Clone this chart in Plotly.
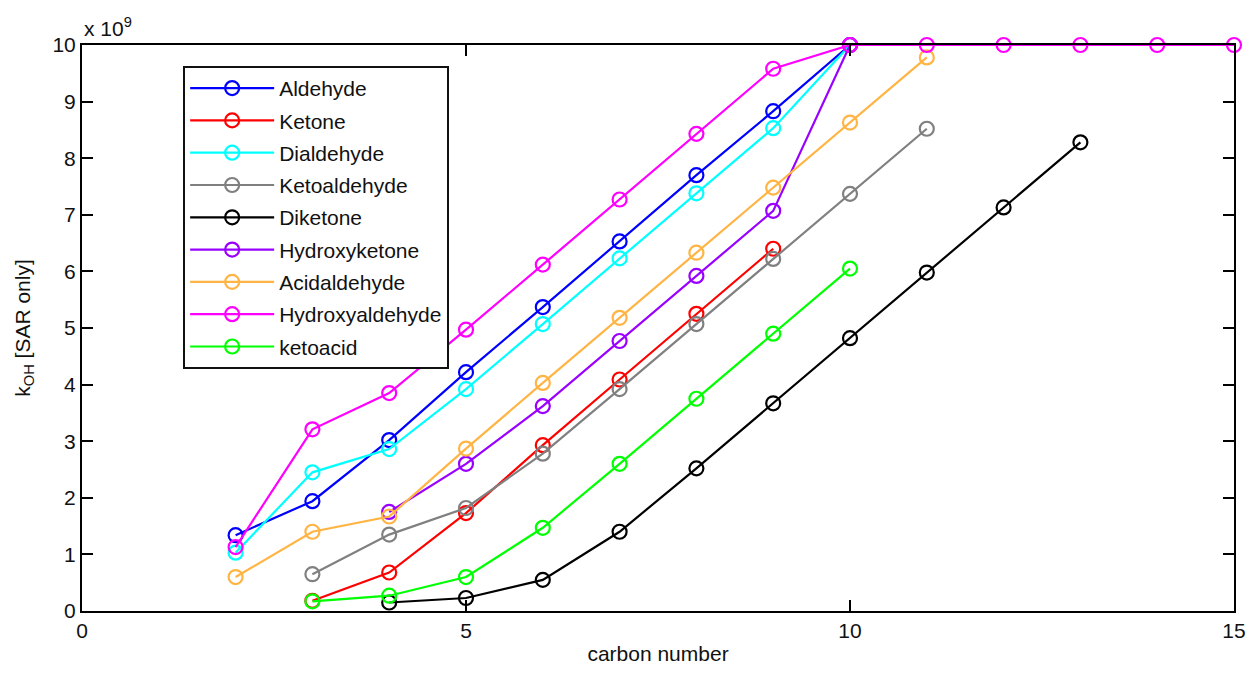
import plotly.graph_objects as go

# values in units of 1e9
names = ["Aldehyde", "Ketone", "Dialdehyde", "Ketoaldehyde", "Diketone",
         "Hydroxyketone", "Acidaldehyde", "Hydroxyaldehyde", "ketoacid"]
colors = ["#0000FF", "#FF0000", "#00FFFF", "#808080", "#000000",
          "#9900FF", "#FFB444", "#FF00FF", "#00FF00"]

aldehyde_x = [2, 3, 4, 5, 6, 7, 8, 9, 10]
aldehyde_y = [1.34, 1.94, 3.02, 4.22, 5.37, 6.53, 7.70, 8.83, 10.0]
ketone_x = [3, 4, 5, 6, 7, 8, 9]
ketone_y = [0.18, 0.68, 1.73, 2.93, 4.09, 5.25, 6.40]
dialdehyde_x = [2, 3, 4, 5, 6, 7, 8, 9, 10]
dialdehyde_y = [1.03, 2.45, 2.86, 3.92, 5.07, 6.23, 7.38, 8.53, 10.0]
ketoaldehyde_x = [3, 4, 5, 6, 7, 8, 9, 10, 11]
ketoaldehyde_y = [0.65, 1.35, 1.82, 2.78, 3.92, 5.07, 6.22, 7.37, 8.52]
diketone_x = [4, 5, 6, 7, 8, 9, 10, 11, 12, 13]
diketone_y = [0.15, 0.23, 0.55, 1.40, 2.52, 3.67, 4.82, 5.98, 7.13, 8.28]
hydroxyketone_x = [4, 5, 6, 7, 8, 9, 10]
hydroxyketone_y = [1.75, 2.60, 3.62, 4.77, 5.92, 7.07, 10.0]
acidaldehyde_x = [2, 3, 4, 5, 6, 7, 8, 9, 10, 11]
acidaldehyde_y = [0.60, 1.40, 1.67, 2.87, 4.03, 5.18, 6.33, 7.48, 8.63, 9.78]
hydroxyaldehyde_x = [2, 3, 4, 5, 6, 7, 8, 9, 10, 11, 12, 13, 14, 15]
hydroxyaldehyde_y = [1.13, 3.21, 3.85, 4.97, 6.12, 7.27, 8.43, 9.58, 10.0, 10.0, 10.0, 10.0, 10.0, 10.0]
ketoacid_x = [3, 4, 5, 6, 7, 8, 9, 10]
ketoacid_y = [0.17, 0.27, 0.60, 1.47, 2.60, 3.75, 4.90, 6.05]

series = [
    (aldehyde_x, aldehyde_y), (ketone_x, ketone_y), (dialdehyde_x, dialdehyde_y),
    (ketoaldehyde_x, ketoaldehyde_y), (diketone_x, diketone_y),
    (hydroxyketone_x, hydroxyketone_y), (acidaldehyde_x, acidaldehyde_y),
    (hydroxyaldehyde_x, hydroxyaldehyde_y), (ketoacid_x, ketoacid_y),
]

x_ticks = [0, 5, 10, 15]
y_ticks = [0, 1, 2, 3, 4, 5, 6, 7, 8, 9, 10]

FONT = "Liberation Sans, Arial, sans-serif"
FS = 21

fig = go.Figure()
for i, (name, color, (xs, ys)) in enumerate(zip(names, colors, series)):
    fig.add_trace(go.Scatter(
        x=xs, y=ys, name=name, mode="lines+markers",
        line=dict(color=color, width=2.2),
        marker=dict(symbol="circle-open", size=14, color=color, line=dict(width=2.2, color=color)),
        legendgroup=f"g{i}", cliponaxis=False,
    ))

fig.update_layout(
    width=1258, height=674,
    margin=dict(l=82, r=14, t=45, b=56),
    paper_bgcolor="white", plot_bgcolor="white",
    font=dict(family=FONT, size=FS, color="#111111"),
    showlegend=True,
    legend=dict(
        x=0.0878, y=0.963, xanchor="left", yanchor="top",
        bordercolor="#111111", borderwidth=2, bgcolor="white",
        font=dict(family=FONT, size=21, color="#111111"),
        tracegroupgap=2, itemwidth=84,
    ),
    xaxis=dict(
        range=[0, 15], tickvals=x_ticks, ticks="inside", ticklen=11, tickwidth=2,
        tickcolor="black", showline=True, linewidth=2, linecolor="black",
        mirror="ticks", showgrid=False, zeroline=False,
        title=dict(text="carbon number", font=dict(size=FS), standoff=5),
        tickfont=dict(size=FS),
    ),
    yaxis=dict(
        range=[0, 10], tickvals=y_ticks, ticks="inside", ticklen=11, tickwidth=2,
        tickcolor="black", showline=True, linewidth=2, linecolor="black",
        mirror="ticks", showgrid=False, zeroline=False,
        title=dict(text="k<sub>OH</sub> [SAR only]", font=dict(size=FS), standoff=16),
        tickfont=dict(size=FS),
    ),
    annotations=[dict(
        text="x 10<sup>9</sup>", xref="paper", yref="paper", x=0.0, y=1.0,
        xanchor="left", yanchor="bottom", showarrow=False, yshift=3,
        font=dict(family=FONT, size=FS, color="#111111"),
    )],
)

fig.write_html("out.html")
